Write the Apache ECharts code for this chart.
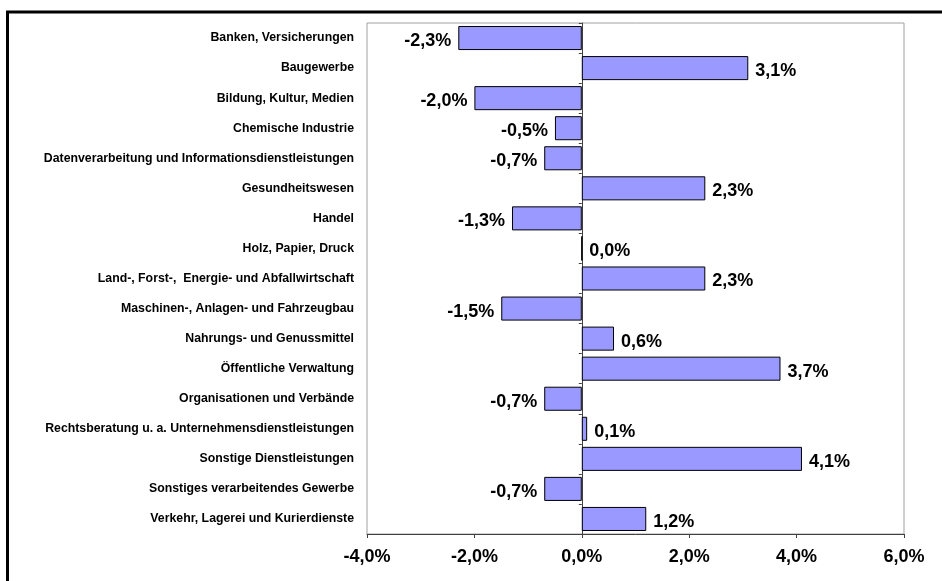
<!DOCTYPE html>
<html>
<head>
<meta charset="utf-8">
<script src="https://cdn.jsdelivr.net/npm/echarts@6/dist/echarts.min.js"></script>
<style>
  html, body { margin: 0; padding: 0; background: #fff; }
  #chart { width: 942px; height: 581px; }
</style>
</head>
<body>
<div id="chart"></div>
<script>
// Branchen (von oben nach unten)
var categories = [
    "Banken, Versicherungen",
    "Baugewerbe",
    "Bildung, Kultur, Medien",
    "Chemische Industrie",
    "Datenverarbeitung und Informationsdienstleistungen",
    "Gesundheitswesen",
    "Handel",
    "Holz, Papier, Druck",
    "Land-, Forst-,  Energie- und Abfallwirtschaft",
    "Maschinen-, Anlagen- und Fahrzeugbau",
    "Nahrungs- und Genussmittel",
    "Öffentliche Verwaltung",
    "Organisationen und Verbände",
    "Rechtsberatung u. a. Unternehmensdienstleistungen",
    "Sonstige Dienstleistungen",
    "Sonstiges verarbeitendes Gewerbe",
    "Verkehr, Lagerei und Kurierdienste"
];
// Veränderung in Prozent
var values = [-2.3, 3.1, -2.0, -0.5, -0.7, 2.3, -1.3, 0.0, 2.3, -1.5, 0.6, 3.7, -0.7, 0.1, 4.1, -0.7, 1.2];
// x-Achse
var xMin = -4, xMax = 6, xStep = 2;

var font = "'Liberation Sans', Arial, sans-serif";

function pct(v) {
    return v.toFixed(1).replace(".", ",") + "%";
}

var chart = echarts.init(document.getElementById("chart"));
chart.setOption({
    animation: false,
    textStyle: { fontFamily: font },
    // äußerer Rahmen
    graphic: [{
        type: "rect",
        shape: { x: 7.5, y: 12, width: 2000, height: 2000 },
        style: { fill: "none", stroke: "#000", lineWidth: 3 },
        silent: true
    }],
    grid: {
        left: 367,
        right: 38,
        top: 23,
        bottom: 47,
        show: true,
        borderColor: "#a0a0a0",
        borderWidth: 1
    },
    xAxis: {
        type: "value",
        min: xMin,
        max: xMax,
        interval: xStep,
        axisLine: { show: true, onZero: false, lineStyle: { color: "#404040", width: 1 } },
        axisTick: { show: true, length: 4, lineStyle: { color: "#404040" } },
        splitLine: { show: false },
        axisLabel: {
            margin: 14,
            fontSize: 18,
            fontWeight: "bold",
            color: "#000",
            fontFamily: font,
            formatter: function (v) { return pct(v); }
        }
    },
    yAxis: [{
        type: "category",
        data: categories,
        inverse: true,
        position: "left",
        axisLine: { show: false, onZero: false },
        axisTick: { show: false },
        axisLabel: {
            margin: 13,
            fontSize: 12.3,
            fontWeight: "bold",
            color: "#000",
            fontFamily: font
        }
    }, {
        // Nulllinie mit Teilstrichen
        type: "category",
        data: categories,
        inverse: true,
        position: "left",
        axisLine: { show: true, onZero: true, lineStyle: { color: "#404040", width: 1 } },
        axisTick: { show: true, length: 3, lineStyle: { color: "#404040" } },
        axisLabel: { show: false }
    }],
    series: [{
        type: "bar",
        yAxisIndex: 0,
        barCategoryGap: "20%",
        itemStyle: { color: "#9999ff", borderColor: "#000", borderWidth: 1 },
        label: {
            show: true,
            distance: 7,
            offset: [0, 3],
            fontSize: 18,
            fontWeight: "bold",
            color: "#000",
            fontFamily: font,
            formatter: function (p) { return pct(p.value); }
        },
        data: values.map(function (v) {
            return { value: v, label: { position: v < 0 ? "left" : "right" } };
        })
    }]
});
</script>
</body>
</html>
